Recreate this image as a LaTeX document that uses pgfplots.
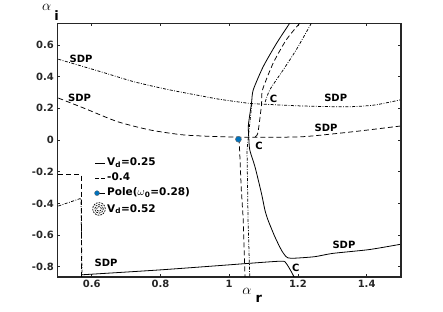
\documentclass[border=0pt]{standalone}
\usepackage{fontspec}
\setmainfont{DejaVu Sans}
\usepackage{pgfplots}
\pgfplotsset{compat=1.18}
\definecolor{axgray}{gray}{0.15}
\definecolor{poleblue}{rgb}{0,0.447,0.741}
\tikzset{
  solidline/.style={black, line width=0.8pt},
  dashedline/.style={black, line width=0.75pt, dash pattern=on 5pt off 3pt},
  dotdash/.style={black, line width=0.75pt, dash pattern=on 3pt off 1.5pt on 0.8pt off 1.5pt},
  lbl/.style={font=\bfseries\fontsize{10}{12}\selectfont, inner sep=0pt, text=black},
}
\begin{document}
\begin{tikzpicture}[x=1pt,y=1pt]
\path[use as bounding box] (-57.3,-35) rectangle (385.7,277);
\begin{axis}[
  at={(0,0)}, anchor=south west,
  scale only axis, width=343.7pt, height=253.7pt,
  xmin=0.5, xmax=1.5, ymin=-0.865, ymax=0.737,
  xtick={0.6,0.8,1,1.2,1.4}, xticklabels={0.6,0.8,1,1.2,1.4},
  ytick={-0.8,-0.6,-0.4,-0.2,0,0.2,0.4,0.6},
  yticklabels={-0.8,-0.6,-0.4,-0.2,0,0.2,0.4,0.6},
  tick align=inside, tick pos=both, major tick length=3pt,
  tick style={axgray, line width=0.6pt},
  axis line style={axgray, line width=1.2pt},
  tick label style={font=\bfseries\fontsize{10}{12}\selectfont, text=axgray},
  clip=true,
  legend style={draw=none, fill=none, at={(0.102,0.472)}, anchor=north west,
    inner sep=0pt, outer sep=0pt, row sep=3.2pt, column sep=1pt,
    font=\bfseries\fontsize{10.5}{12}\selectfont,
    nodes={inner sep=0.5pt, text height=7.8pt, text depth=3pt}},
  legend cell align=left,
]
% ---- V_d = 0.52 (dash-dot)
\addplot[dotdash, smooth, tension=0.4, forget plot] coordinates {
(0.503,0.510)(0.627,0.431)(0.723,0.368)(0.819,0.320)(0.915,0.280)(0.973,0.257)
(1.057,0.232)(1.095,0.227)(1.211,0.215)(1.346,0.210)(1.423,0.221)(1.497,0.253)};
\addplot[dotdash, smooth, tension=0.4, forget plot] coordinates {
(1.239,0.737)(1.195,0.569)(1.157,0.442)(1.118,0.316)(1.104,0.234)};
\addplot[dotdash, forget plot] coordinates {
(1.066,0.230)(1.052,-0.063)(1.055,-0.505)(1.060,-0.865)};
\addplot[dotdash, forget plot] coordinates {
(0.503,-0.417)(0.569,-0.368)(0.572,-0.865)};
% ---- V_d = 0.4 (dashed)
\addplot[dashedline, smooth, tension=0.4, forget plot] coordinates {
(0.503,0.265)(0.579,0.200)(0.675,0.116)(0.771,0.063)(0.868,0.032)(0.974,0.021)
(1.070,0.017)(1.214,0.021)(1.359,0.052)(1.497,0.088)};
\addplot[dashedline, smooth, tension=0.4, forget plot] coordinates {
(1.205,0.737)(1.166,0.632)(1.128,0.485)(1.097,0.316)(1.094,0.22)(1.083,0.04)(1.070,0.017)};
\addplot[dashedline, forget plot] coordinates {
(1.029,0.01)(1.035,-0.3)(1.041,-0.505)(1.046,-0.865)};
\addplot[dashedline, forget plot] coordinates {
(0.503,-0.217)(0.569,-0.217)(0.569,-0.865)};
% ---- V_d = 0.25 (solid)
\addplot[solidline, smooth, tension=0.4, forget plot] coordinates {
(1.176,0.737)(1.138,0.611)(1.099,0.463)(1.070,0.316)(1.065,0.232)(1.056,0.095)
(1.057,0.02)(1.060,-0.063)(1.075,-0.168)(1.094,-0.337)(1.104,-0.442)(1.113,-0.505)
(1.133,-0.611)(1.152,-0.695)(1.166,-0.737)(1.181,-0.747)(1.248,-0.737)(1.301,-0.716)
(1.407,-0.692)(1.497,-0.659)};
\addplot[solidline, smooth, tension=0.4, forget plot] coordinates {
(0.572,-0.851)(0.8,-0.820)(0.989,-0.790)(1.05,-0.780)(1.152,-0.765)(1.166,-0.779)
(1.181,-0.832)(1.19,-0.87)};
% ---- pole
\addplot[only marks, mark=*, mark size=3pt, mark options={fill=poleblue, draw=black!60, line width=0.4pt}, forget plot]
  coordinates {(1.027,0.005)};
% ---- labels
\node[lbl] at (axis cs:0.569,0.512) {SDP};
\node[lbl] at (axis cs:0.565,0.265) {SDP};
\node[lbl] at (axis cs:1.129,0.263) {C};
\node[lbl] at (axis cs:1.310,0.268) {SDP};
\node[lbl] at (axis cs:1.282,0.075) {SDP};
\node[lbl] at (axis cs:1.087,-0.040) {C};
\node[lbl] at (axis cs:1.334,-0.660) {SDP};
\node[lbl] at (axis cs:1.194,-0.807) {C};
\node[lbl] at (axis cs:0.642,-0.774) {SDP};
% ---- legend
\addlegendimage{legend image code/.code={\draw[solidline] (0pt,0pt) -- (10pt,0pt);}}
\addlegendentry{V\textsubscript{d}=0.25}
\addlegendimage{legend image code/.code={\draw[black, line width=0.8pt, dash pattern=on 3.5pt off 2.5pt] (0pt,0pt) -- (10pt,0pt);}}
\addlegendentry{-0.4}
\addlegendimage{legend image code/.code={\path (0pt,0pt) -- (10pt,0pt); \fill[poleblue, draw=black!60, line width=0.3pt] (2pt,0pt) circle (2.5pt);}}
\addlegendentry{Pole(\textit{$\omega$}\textsubscript{0}=0.28)}
\addlegendimage{legend image code/.code={\draw[black, line width=0.7pt, dash pattern=on 1.8pt off 1pt] (4pt,0) circle (6.3pt) (4pt,0) circle (4.3pt) (4pt,0) circle (2.3pt);}}
\addlegendentry{V\textsubscript{d}=0.52}
\end{axis}
% axis labels
\node[inner sep=0pt] at (189.7,-14.7) {\fontsize{15}{15}\selectfont$\alpha$};
\node[inner sep=0pt] at (201.5,-21.5) {\bfseries\fontsize{13}{13}\selectfont r};
\node[inner sep=0pt] at (-10.6,269.5) {\fontsize{15}{15}\selectfont$\alpha$};
\node[inner sep=0pt] at (-0.6,261) {\bfseries\fontsize{13}{13}\selectfont i};
\end{tikzpicture}
\end{document}
